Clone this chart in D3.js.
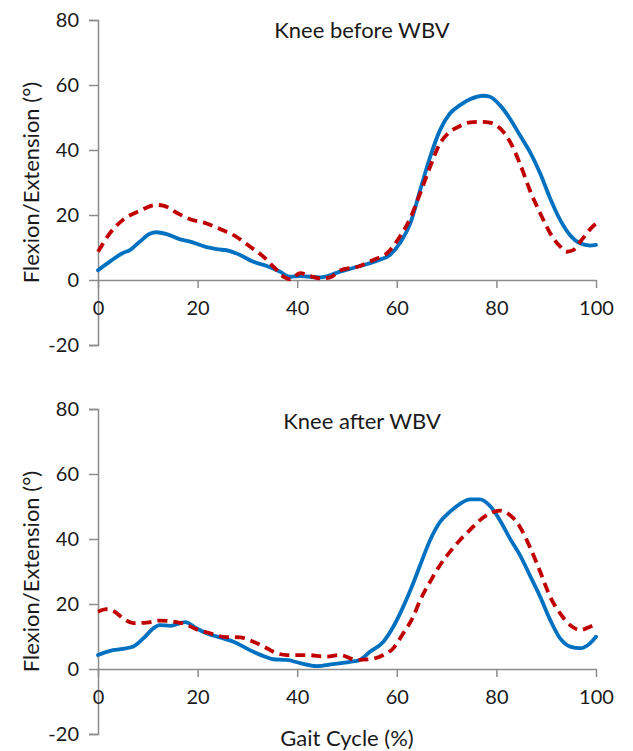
<!DOCTYPE html>
<html>
<head>
<meta charset="utf-8">
<script src="https://cdn.jsdelivr.net/npm/d3@7"></script>
<style>
  html, body { margin: 0; padding: 0; background: #fff; }
  svg { display: block; }
  text { font-family: Lato, "Open Sans", sans-serif; fill: #1a1a1a; }
</style>
</head>
<body>
<svg id="chart" width="633" height="751"></svg>
<script>
// ---- data ----
const xTicks = [0, 20, 40, 60, 80, 100];
const yTicks = [-20, 0, 20, 40, 60, 80];
const panelTitles = ["Knee before WBV", "Knee after WBV"];
const yLabel = "Flexion/Extension (°)";
const xLabel = "Gait Cycle (%)";

// [gait cycle %, angle °]
const beforeSolid = [[0,3.0],[2.5,5.8],[5,8.3],[6.4,9.2],[8.4,11.8],[10.4,14.2],[11.8,14.7],[13.8,14.1],[16.5,12.5],[18.5,11.8],[21.8,10.1],[23.8,9.5],[26.5,8.9],[28.5,7.7],[31.2,5.6],[33.9,4.3],[36.5,2.6],[38.6,1.0],[40.6,1.2],[44.6,0.8],[48.6,2.6],[52.6,4.3],[56.6,6.2],[58.6,7.7],[60.6,11.3],[62.7,17.4],[64.7,27.7],[66.7,37.9],[68.7,46.2],[70.7,51.3],[72.7,53.8],[74.7,55.6],[77.4,56.7],[78.7,56.4],[80.7,53.8],[82.7,49.7],[84.7,44.6],[86.7,39.5],[88.8,32.8],[90.8,25.1],[92.8,18.5],[94.8,13.8],[96.8,11.3],[98.8,10.6],[100,10.8]];
const beforeDashed = [[0,8.7],[2.4,14.4],[5,18.5],[8.4,21.3],[11.8,23.1],[13.1,22.9],[15.8,20.7],[18.5,18.7],[21.8,17.4],[25.2,15.2],[27.8,13.3],[30.5,10.3],[33.2,7.2],[35.1,4.3],[37.5,0.8],[38.6,0.2],[40.6,2.1],[42.6,1.2],[44.6,0.5],[46.6,0.8],[48.6,2.9],[52.6,4.3],[55.6,6.4],[58,8.2],[60.6,13.3],[62.7,19.0],[64.7,26.7],[66.7,34.9],[68.7,42.1],[70.7,45.6],[72.7,47.4],[74.7,48.5],[76.7,48.7],[78.7,48.4],[80.7,46.7],[82.7,42.6],[84.7,35.9],[86.7,27.7],[88.8,20.5],[90.8,14.4],[92.8,10.3],[94.1,8.7],[95.4,9.2],[97.1,12.3],[99.5,16.7],[100,17.3]];
const afterSolid = [[0,4.3],[2.4,5.6],[5,6.2],[7.1,6.9],[9.1,9.4],[11.1,12.5],[12.4,13.5],[14.5,13.3],[17.5,14.4],[19.8,12.5],[21.8,11.0],[25.2,9.4],[27.2,8.4],[30.5,5.8],[33.9,3.6],[35.2,3.0],[37.9,2.8],[40.6,1.8],[43.9,0.9],[47.2,1.5],[50.6,2.2],[52.6,2.8],[54.6,5.3],[57.3,8.4],[59.3,13.0],[61.3,19.2],[63.3,26.4],[64.7,32.0],[66.7,39.7],[68.7,45.3],[70.7,48.4],[72.7,50.8],[74.7,52.2],[76.7,52.2],[78.7,50.2],[80.7,45.8],[82.7,40.2],[84.7,35.1],[86.7,28.9],[88.8,22.2],[90.8,15.1],[92.8,9.4],[94.8,6.9],[96.8,6.4],[98.8,7.9],[100,9.9]];
const afterDashed = [[0,17.6],[1.7,18.4],[3.4,17.6],[5,15.6],[7.1,14.1],[9.8,14.3],[12.4,14.9],[15.1,14.6],[17.5,13.8],[19.8,12.2],[22.5,11.0],[25.2,9.9],[28.5,9.7],[31.2,8.4],[33.9,6.4],[35.2,5.3],[37.9,4.3],[41.9,4.3],[45.9,3.8],[48.6,4.3],[51.9,2.8],[54.6,3.0],[57.3,4.3],[59.3,6.4],[61.3,11.0],[63.3,16.1],[64.7,21.2],[66.7,26.9],[68.7,32.0],[70.7,36.1],[72.7,39.7],[74.7,42.8],[76.7,45.8],[78.7,47.9],[80.7,48.7],[82.7,47.4],[84.7,43.8],[86.7,37.6],[88.8,29.9],[90.8,22.2],[92.8,17.1],[94.8,13.5],[96.8,12.0],[98.8,13.0],[100,13.8]];

// ---- drawing ----
const svg = d3.select("#chart");
const axisColor = "#8c8c8c";
const blue = "#0070C0", red = "#C00000";
const tickFont = "20px", labelFont = "22px";
const x = d3.scaleLinear().domain([0, 100]).range([98, 596]);

const panels = [
  { title: panelTitles[0], top: 20, solid: beforeSolid, dashed: beforeDashed, titleY: 38 },
  { title: panelTitles[1], top: 409, solid: afterSolid, dashed: afterDashed, titleY: 429 }
];

panels.forEach((p, i) => {
  const y = d3.scaleLinear().domain([-20, 80]).range([p.top + 325, p.top]);
  const g = svg.append("g");

  // y axis
  const ya = g.append("g").attr("transform", `translate(${x(0)},0)`)
    .call(d3.axisLeft(y).tickValues(yTicks).tickSize(9).tickPadding(10).tickFormat(d => String(d)));
  ya.select(".domain").attr("stroke", axisColor).attr("stroke-width", 1.5);
  ya.selectAll(".tick line").attr("stroke", axisColor).attr("stroke-width", 1.5);
  ya.selectAll(".tick text").style("font-size", tickFont).style("font-family", "Lato, 'Open Sans', sans-serif").attr("fill", "#1a1a1a");

  // x axis at y = 0
  const xa = g.append("g").attr("transform", `translate(0,${y(0)})`)
    .call(d3.axisBottom(x).tickValues(xTicks).tickSize(8).tickSizeOuter(0).tickPadding(13).tickFormat(d => String(d)));
  xa.select(".domain").attr("stroke", axisColor).attr("stroke-width", 1.5);
  xa.selectAll(".tick line").attr("stroke", axisColor).attr("stroke-width", 1.5);
  xa.selectAll(".tick text").style("font-size", tickFont).style("font-family", "Lato, 'Open Sans', sans-serif").attr("fill", "#1a1a1a");

  const line = d3.line().x(d => x(d[0])).y(d => y(d[1])).curve(d3.curveMonotoneX);

  g.append("path").datum(p.solid).attr("d", line)
    .attr("fill", "none").attr("stroke", blue).attr("stroke-width", 3.8)
    .attr("stroke-linejoin", "round").attr("stroke-linecap", "round");
  g.append("path").datum(p.dashed).attr("d", line)
    .attr("fill", "none").attr("stroke", red).attr("stroke-width", 3.8)
    .attr("stroke-dasharray", "10,6");

  // title
  g.append("text").attr("x", 362).attr("y", p.titleY).attr("text-anchor", "middle")
    .style("font-size", labelFont).text(p.title);

  // y label
  g.append("text")
    .attr("transform", `translate(30,${(y(-20) + y(80)) / 2}) rotate(-90)`)
    .attr("text-anchor", "middle").attr("dominant-baseline", "central")
    .style("font-size", labelFont).text(yLabel);
});

svg.append("text").attr("x", 347).attr("y", 746).attr("text-anchor", "middle")
  .style("font-size", labelFont).text(xLabel);
</script>
</body>
</html>
